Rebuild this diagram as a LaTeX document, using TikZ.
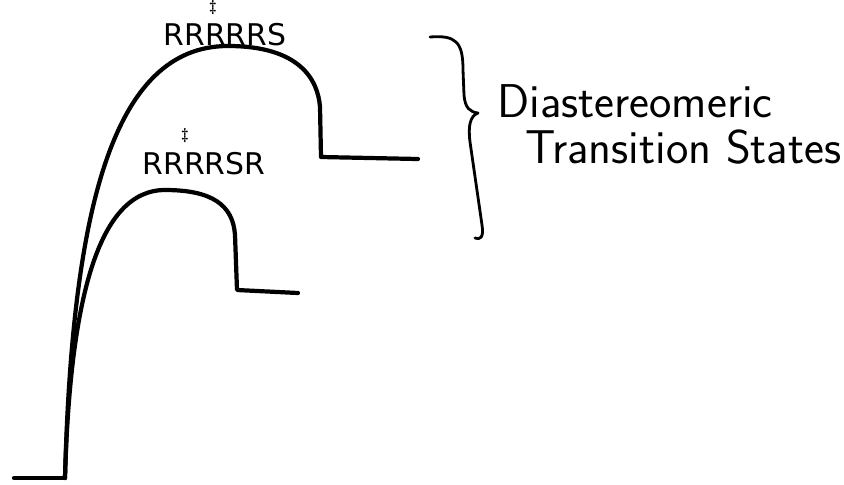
\documentclass[tikz,border=0pt]{standalone}
\usepackage{fontspec}
\usepackage{tikz}
\usetikzlibrary{positioning}
\newfontfamily\labelfont{DejaVu Sans}

\begin{document}
\begin{tikzpicture}[
    x=0.02cm, y=-0.02cm,
    curve/.style={line width=2.4pt, line cap=round, line join=round},
    bracket/.style={line width=1.6pt, line cap=round, line join=round},
    tslabel/.style={font=\labelfont\fontsize{17}{19}\selectfont, inner sep=0pt, anchor=base},
    dagger/.style={font=\bfseries\fontsize{9}{11}\selectfont, inner sep=0pt},
    note/.style={font=\sffamily\fontsize{27}{30}\selectfont, anchor=base west, inner sep=0pt}
]
\useasboundingbox (0,0) rectangle (844,484);

% reaction coordinate ends
\coordinate (start) at (65,478);
\coordinate (left) at (14,478);
\coordinate (prodA) at (418,159);
\coordinate (prodB) at (298,293);

\draw[curve] (left) -- (start);

% higher barrier
\draw[curve] (start) .. controls (72,212) and (112,46) .. (228,46)
    .. controls (300,46) and (318,80) .. (320,107) -- (321,157) -- (prodA);

% lower barrier
\draw[curve] (start) .. controls (70,300) and (98,190) .. (165,190)
    .. controls (212,190) and (233,205) .. (235,235) -- (237,290) -- (prodB);

% transition state labels
\node[tslabel] (tsA) at (225,45) {RRRRRS};
\node[dagger, anchor=north] (dgA) at (213,0) {\ddag};
\node[tslabel] (tsB) at (204,174) {RRRRSR};
\node[dagger, above=5pt of tsB.north, xshift=-0.38cm] (dgB) {\ddag};

% brace
\coordinate (btop) at (430,37);
\coordinate (btip) at (478,113);
\coordinate (bend) at (475,238);
\draw[bracket] (btop) .. controls (456,35) and (463,42) .. (463,70) -- (464,95)
    .. controls (465,108) and (470,112) .. (btip)
    .. controls (470,116) and (468,126) .. (470,142) -- (482,225)
    .. controls (484,238) and (480,240) .. (bend);

\node[note] (dia) at (497,117) {Diastereomeric};
\node[note] (trs) at (525,163) {Transition States};

\end{tikzpicture}
\end{document}
